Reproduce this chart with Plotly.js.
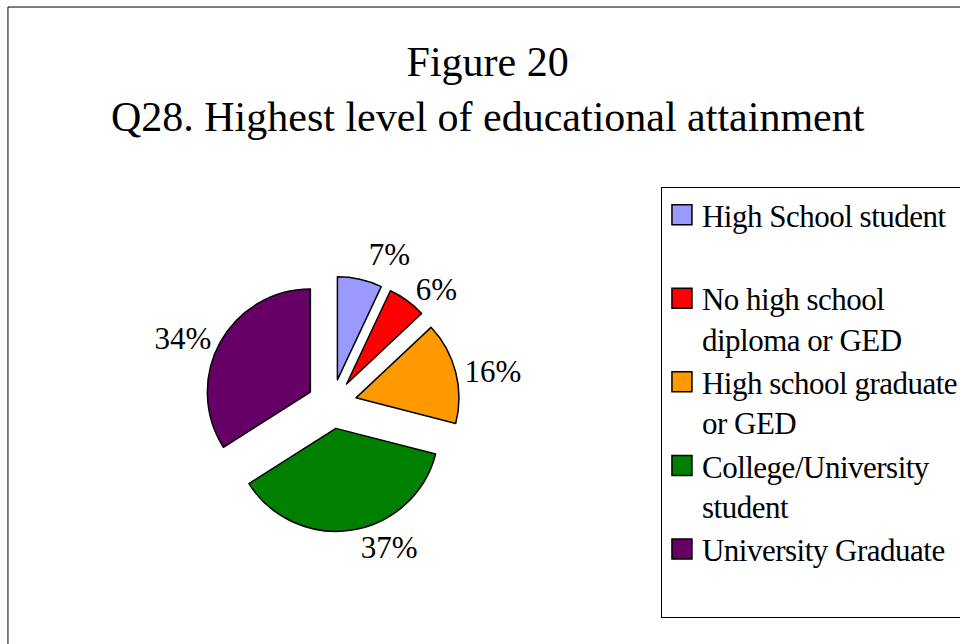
<!DOCTYPE html>
<html>
<head>
<meta charset="utf-8">
<script src="https://cdn.plot.ly/plotly-3.0.1.min.js"></script>
<style>
html,body{margin:0;padding:0;background:#fff;}
#chart{width:960px;height:644px;}
/* hide the leader line Plotly adds to displaced outside labels */
#chart path.textline{display:none;}
/* slightly condensed legend text, as in the original */
#chart .legendtext{letter-spacing:-0.5px;}
</style>
</head>
<body>
<div id="chart"></div>
<script>
// ---- data ----
var categories = [
  "High School student",
  "No high school<br>diploma or GED",
  "High school graduate<br>or GED",
  "College/University<br>student",
  "University Graduate"
];
var percentages = [7, 6, 16, 37, 34];
var sliceColors = ["#9999FF", "#FF0000", "#FF9900", "#008000", "#660066"];

// legend labels: single-line entries keep a blank second line as in the original
var legendLabels = categories.map(function (c) {
  return c.indexOf("<br>") === -1 ? c + "<br> " : c;
});

var serif = "Liberation Serif, Times New Roman, serif";

var trace = {
  type: "pie",
  labels: legendLabels,
  values: percentages,
  sort: false,
  direction: "clockwise",
  rotation: 0,
  pull: 0.24,
  marker: { colors: sliceColors, line: { color: "#000", width: 1.5 } },
  texttemplate: "%{value}%",
  textposition: "outside",
  textfont: { family: serif, size: 31, color: "#000" },
  automargin: false,
  domain: { x: [0.2128, 0.4789], y: [0.1744, 0.571] },
  hoverinfo: "label+percent"
};

var layout = {
  width: 960,
  height: 644,
  margin: { l: 0, r: 0, t: 0, b: 0, autoexpand: false },
  paper_bgcolor: "#fff",
  font: { family: serif, color: "#000" },
  title: {
    text: "Figure 20<br>Q28. Highest level of educational attainment",
    font: { family: serif, size: 42, color: "#000" },
    x: 0.508, xanchor: "center",
    y: 0.882, yanchor: "top", yref: "container"
  },
  showlegend: true,
  legend: {
    x: 0.6885, xanchor: "left",
    y: 0.7096, yanchor: "top",
    bgcolor: "#fff",
    bordercolor: "#000",
    borderwidth: 1,
    valign: "top",
    font: { family: serif, size: 31, color: "#000" },
    traceorder: "normal"
  },
  shapes: [{
    type: "rect", xref: "paper", yref: "paper",
    x0: 0.0083, x1: 1.02, y0: -0.02, y1: 0.9891,
    line: { color: "#000", width: 1 }, fillcolor: "rgba(0,0,0,0)"
  }]
};

Plotly.newPlot("chart", [trace], layout, { displayModeBar: false, staticPlot: true })
  .then(function (gd) {
    // larger square legend keys (20px) like the original
    var keys = gd.querySelectorAll(".legendpoints path");
    keys.forEach(function (p) {
      p.setAttribute("d", "M10,10H-10V-10H10Z");
    });
  });
</script>
</body>
</html>
